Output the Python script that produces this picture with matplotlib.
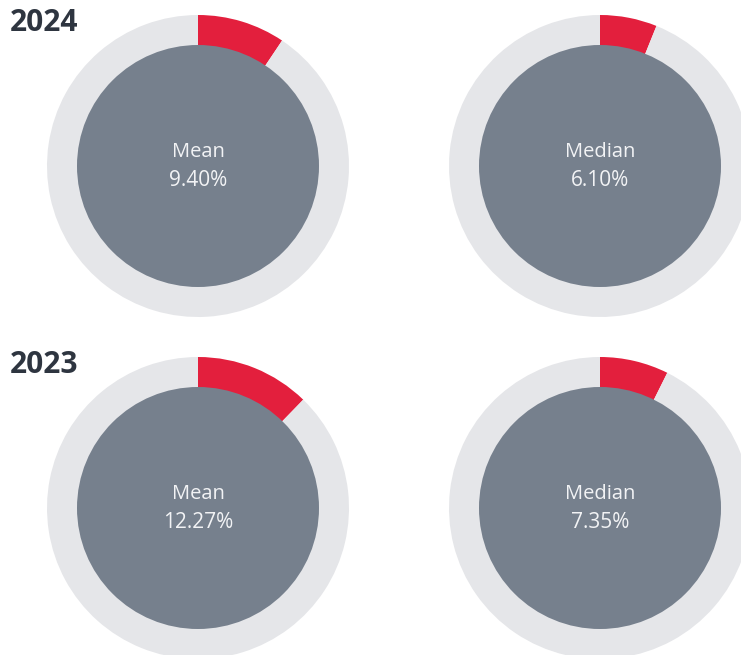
import matplotlib.pyplot as plt
from matplotlib.patches import Circle

# Werte aus dem Bild
years = ['2024', '2023']
stat_labels = ['Mean', 'Median']
values = [[9.40, 6.10],
          [12.27, 7.35]]

RED = '#E31F3D'
RING = '#E5E6E9'
DISC = '#76808D'
TITLE = '#2E3540'

W, H = 741, 655
fig = plt.figure(figsize=(W / 100, H / 100), dpi=100)
ax = fig.add_axes([0, 0, 1, 1])

# Mittelpunkte in Pixeln (x, y von oben)
col_x = [198, 600]
row_y = [166, 508]
r_out = 151
r_in = 121

for i, year in enumerate(years):
    cy = H - row_y[i]
    for j, lab in enumerate(stat_labels):
        cx = col_x[j]
        v = values[i][j]
        ax.pie([v, 100 - v], colors=[RED, RING], center=(cx, cy), radius=r_out,
               startangle=90, counterclock=False,
               wedgeprops=dict(width=r_out - r_in + 2, linewidth=0))
        ax.add_patch(Circle((cx, cy), r_in, facecolor=DISC, edgecolor='none', zorder=3))
        ax.text(cx, cy + 14, lab, ha='center', va='center', fontsize=14.5,
                color='#F2F3F5', family='Open Sans', zorder=4)
        ax.text(cx, cy - 14, f'{v:.2f}%', ha='center', va='center', fontsize=15,
                color='#F2F3F5', family='Open Sans', zorder=4)
    ax.text(10, H - (23 + (row_y[i] - 166)), year, ha='left', va='center',
            fontsize=21.5, fontweight='bold', color=TITLE, family='Open Sans', zorder=5)

ax.set_xlim(0, W)
ax.set_ylim(0, H)
ax.set_aspect('equal')
ax.axis('off')

fig.savefig('out.png', dpi=100)
